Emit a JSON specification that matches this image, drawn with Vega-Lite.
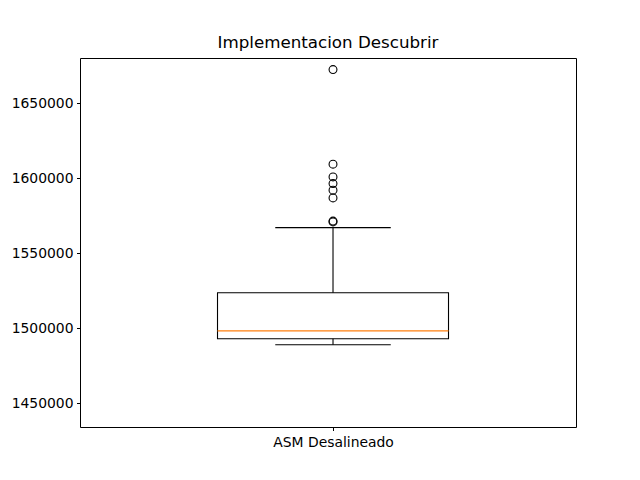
{
  "$schema": "https://vega.github.io/schema/vega-lite/v6.json",
  "width": 496,
  "height": 369,
  "autosize": {"type": "none"},
  "padding": {"left": 80, "top": 58, "right": 64, "bottom": 53},
  "background": "white",
  "title": {"text": "Implementacion Descubrir", "font": "DejaVu Sans", "fontSize": 16.7, "fontWeight": "normal", "color": "black", "anchor": "middle", "offset": 6, "frame": "group"},
  "config": {
    "view": {"stroke": "black", "strokeWidth": 1},
    "axis": {"grid": false, "domain": false, "tickColor": "black", "tickSize": 3.5, "tickWidth": 1, "labelFont": "DejaVu Sans", "labelFontSize": 13.9, "labelColor": "black", "labelPadding": 3.5, "title": null}
  },
  "datasets": {
    "summary": [
      {"group": "ASM Desalineado", "lower": 1488800, "q1": 1492800, "median": 1498100, "q3": 1523500, "upper": 1566900}
    ],
    "outliers": [
      {"group": "ASM Desalineado", "value": 1672300},
      {"group": "ASM Desalineado", "value": 1609200},
      {"group": "ASM Desalineado", "value": 1600700},
      {"group": "ASM Desalineado", "value": 1596300},
      {"group": "ASM Desalineado", "value": 1591900},
      {"group": "ASM Desalineado", "value": 1586700},
      {"group": "ASM Desalineado", "value": 1571300},
      {"group": "ASM Desalineado", "value": 1570700}
    ]
  },
  "encoding": {
    "x": {"field": "group", "type": "nominal", "scale": {"type": "point", "padding": 0, "align": 0.5101}, "axis": {"labelAngle": 0, "labelPadding": 5}}
  },
  "layer": [
    {
      "data": {"name": "summary"},
      "mark": {"type": "rule", "color": "black", "strokeWidth": 1.1, "opacity": 1},
      "encoding": {
        "y": {"field": "lower", "type": "quantitative", "scale": {"domain": [1434000, 1680000], "nice": false, "zero": false}, "axis": {"values": [1450000, 1500000, 1550000, 1600000, 1650000], "format": "d"}},
        "y2": {"field": "upper"}
      }
    },
    {
      "data": {"name": "summary"},
      "mark": {"type": "bar", "fill": "white", "stroke": "black", "strokeWidth": 1.1, "size": 231, "opacity": 1},
      "encoding": {
        "y": {"field": "q1", "type": "quantitative"},
        "y2": {"field": "q3"}
      }
    },
    {
      "data": {"name": "summary"},
      "mark": {"type": "tick", "color": "#ff7f0e", "size": 231, "thickness": 1.1, "opacity": 1},
      "encoding": {"y": {"field": "median", "type": "quantitative"}}
    },
    {
      "data": {"name": "summary"},
      "mark": {"type": "tick", "color": "black", "size": 115.5, "thickness": 1.1, "opacity": 1},
      "encoding": {"y": {"field": "lower", "type": "quantitative"}}
    },
    {
      "data": {"name": "summary"},
      "mark": {"type": "tick", "color": "black", "size": 115.5, "thickness": 1.1, "opacity": 1},
      "encoding": {"y": {"field": "upper", "type": "quantitative"}}
    },
    {
      "data": {"name": "outliers"},
      "mark": {"type": "point", "shape": "circle", "filled": false, "stroke": "black", "strokeWidth": 1.1, "size": 62, "opacity": 1},
      "encoding": {"y": {"field": "value", "type": "quantitative"}}
    }
  ]
}
